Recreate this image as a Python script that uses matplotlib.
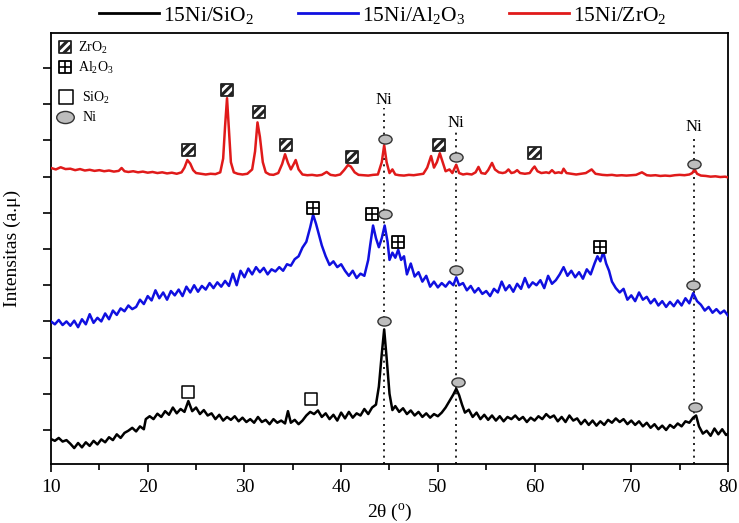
import matplotlib
matplotlib.use("Agg")
import matplotlib.pyplot as plt
from matplotlib.path import Path
from matplotlib.transforms import Affine2D
from matplotlib.lines import Line2D

plt.rcParams['font.family'] = ['Liberation Serif', 'DejaVu Serif']
plt.rcParams['mathtext.fontset'] = 'custom'
plt.rcParams['mathtext.rm'] = 'Liberation Serif'
plt.rcParams['mathtext.it'] = 'Liberation Serif:italic'
plt.rcParams['mathtext.default'] = 'regular'
plt.rcParams['hatch.linewidth'] = 2.2

# ---------------- data (intensity in arbitrary units) ----------------
sio2_x = [10.0, 10.4, 10.8, 11.2, 11.6, 12.0, 12.4, 12.8, 13.2, 13.6, 14.0, 14.4, 14.8, 15.2, 15.6,
          16.0, 16.4, 16.8, 17.2, 17.6, 18.0, 18.4, 18.8, 19.2, 19.6, 19.8, 20.2, 20.6, 21.0, 21.4,
          21.8, 22.2, 22.6, 23.0, 23.4, 23.8, 24.2, 24.6, 25.0, 25.4, 25.8, 26.2, 26.6, 27.0, 27.4,
          27.8, 28.2, 28.6, 29.0, 29.4, 29.8, 30.2, 30.6, 31.0, 31.4, 31.8, 32.2, 32.6, 33.0, 33.4,
          33.8, 34.2, 34.5, 34.8, 35.2, 35.6, 36.0, 36.4, 36.8, 37.2, 37.6, 38.0, 38.4, 38.8, 39.2,
          39.6, 40.0, 40.4, 40.8, 41.2, 41.6, 42.0, 42.4, 42.8, 43.2, 43.6, 43.9, 44.2, 44.45, 44.7,
          45.0, 45.3, 45.6, 46.0, 46.4, 46.8, 47.2, 47.6, 48.0, 48.4, 48.8, 49.2, 49.6, 50.0, 50.4,
          50.8, 51.2, 51.6, 51.9, 52.2, 52.5, 52.8, 53.2, 53.6, 54.0, 54.4, 54.8, 55.2, 55.6, 56.0,
          56.4, 56.8, 57.2, 57.6, 58.0, 58.4, 58.8, 59.2, 59.6, 60.0, 60.4, 60.8, 61.2, 61.6, 62.0,
          62.4, 62.8, 63.2, 63.6, 64.0, 64.4, 64.8, 65.2, 65.6, 66.0, 66.4, 66.8, 67.2, 67.6, 68.0,
          68.4, 68.8, 69.2, 69.6, 70.0, 70.4, 70.8, 71.2, 71.6, 72.0, 72.4, 72.8, 73.2, 73.6, 74.0,
          74.4, 74.8, 75.2, 75.6, 76.0, 76.4, 76.7, 77.0, 77.4, 77.8, 78.2, 78.6, 79.0, 79.4, 79.8, 80.0]
sio2_y = [-0.25, -0.30, -0.22, -0.32, -0.28, -0.38, -0.50, -0.36, -0.48, -0.34, -0.44, -0.30, -0.40, -0.26, -0.34,
          -0.20, -0.28, -0.12, -0.22, -0.08, -0.02, 0.06, -0.04, 0.10, 0.02, 0.30, 0.38, 0.30, 0.45, 0.36,
          0.52, 0.42, 0.62, 0.46, 0.58, 0.50, 0.80, 0.52, 0.62, 0.44, 0.55, 0.40, 0.46, 0.30, 0.42,
          0.26, 0.36, 0.28, 0.38, 0.24, 0.34, 0.22, 0.30, 0.20, 0.36, 0.22, 0.28, 0.16, 0.30, 0.20,
          0.26, 0.18, 0.52, 0.20, 0.28, 0.16, 0.26, 0.40, 0.50, 0.44, 0.54, 0.36, 0.46, 0.30, 0.42,
          0.26, 0.48, 0.32, 0.50, 0.34, 0.46, 0.40, 0.58, 0.44, 0.62, 0.70, 1.20, 2.10, 2.78, 2.00,
          1.00, 0.55, 0.66, 0.50, 0.60, 0.44, 0.54, 0.40, 0.50, 0.36, 0.46, 0.34, 0.44, 0.38, 0.48,
          0.62, 0.80, 0.98, 1.14, 0.96, 0.70, 0.48, 0.56, 0.36, 0.48, 0.30, 0.42, 0.28, 0.40, 0.26,
          0.38, 0.24, 0.36, 0.30, 0.40, 0.28, 0.36, 0.22, 0.34, 0.26, 0.38, 0.30, 0.44, 0.34, 0.40,
          0.24, 0.36, 0.22, 0.40, 0.26, 0.32, 0.16, 0.28, 0.14, 0.26, 0.12, 0.24, 0.14, 0.28, 0.20,
          0.32, 0.22, 0.30, 0.16, 0.26, 0.14, 0.24, 0.10, 0.20, 0.06, 0.16, 0.02, 0.12, 0.00, 0.14,
          0.06, 0.18, 0.10, 0.24, 0.20, 0.34, 0.40, 0.10, -0.10, -0.02, -0.16, 0.04, -0.12, 0.02, -0.14, -0.10]

al2o3_x = [10.0, 10.4, 10.8, 11.2, 11.6, 12.0, 12.4, 12.8, 13.2, 13.6, 14.0, 14.4, 14.8, 15.2, 15.6,
           16.0, 16.4, 16.8, 17.2, 17.6, 18.0, 18.4, 18.8, 19.2, 19.6, 20.0, 20.4, 20.8, 21.2, 21.6,
           22.0, 22.4, 22.8, 23.2, 23.6, 24.0, 24.4, 24.8, 25.2, 25.6, 26.0, 26.4, 26.8, 27.2, 27.6,
           28.0, 28.4, 28.8, 29.2, 29.6, 30.0, 30.4, 30.8, 31.2, 31.6, 32.0, 32.4, 32.8, 33.2, 33.6,
           34.0, 34.4, 34.8, 35.2, 35.6, 36.0, 36.4, 36.8, 37.1, 37.4, 37.7, 38.0, 38.4, 38.8, 39.2,
           39.6, 40.0, 40.4, 40.8, 41.2, 41.6, 42.0, 42.4, 42.8, 43.0, 43.3, 43.6, 43.9, 44.2, 44.5,
           44.8, 45.0, 45.3, 45.6, 45.9, 46.2, 46.5, 46.8, 47.2, 47.6, 48.0, 48.4, 48.8, 49.2, 49.6,
           50.0, 50.4, 50.8, 51.2, 51.6, 51.9, 52.2, 52.6, 53.0, 53.4, 53.8, 54.2, 54.6, 55.0, 55.4,
           55.8, 56.2, 56.6, 57.0, 57.4, 57.8, 58.2, 58.6, 59.0, 59.4, 59.8, 60.2, 60.6, 61.0, 61.4,
           61.8, 62.2, 62.6, 63.0, 63.4, 63.8, 64.2, 64.6, 65.0, 65.4, 65.8, 66.2, 66.5, 66.8, 67.1,
           67.4, 67.7, 68.0, 68.4, 68.8, 69.2, 69.6, 70.0, 70.4, 70.8, 71.2, 71.6, 72.0, 72.4, 72.8,
           73.2, 73.6, 74.0, 74.4, 74.8, 75.2, 75.6, 76.0, 76.4, 76.8, 77.2, 77.6, 78.0, 78.4, 78.8,
           79.2, 79.6, 80.0]
al2o3_y = [3.00, 2.92, 3.04, 2.90, 3.00, 2.88, 3.02, 2.84, 3.06, 2.92, 3.20, 2.96, 3.10, 3.00, 3.22,
           3.06, 3.30, 3.18, 3.36, 3.28, 3.44, 3.34, 3.40, 3.60, 3.48, 3.70, 3.58, 3.86, 3.64, 3.80,
           3.60, 3.84, 3.72, 3.88, 3.70, 3.96, 3.80, 4.00, 3.82, 3.98, 3.88, 4.06, 3.92, 4.08, 3.96,
           4.12, 3.98, 4.32, 4.00, 4.40, 4.22, 4.46, 4.30, 4.50, 4.36, 4.48, 4.30, 4.44, 4.38, 4.50,
           4.40, 4.58, 4.54, 4.72, 4.80, 5.04, 5.20, 5.60, 5.95, 5.70, 5.40, 5.10, 4.80, 4.56, 4.66,
           4.50, 4.58, 4.40, 4.26, 4.40, 4.20, 4.32, 4.26, 4.70, 5.10, 5.65, 5.30, 5.05, 5.30, 5.65,
           5.20, 4.70, 4.90, 4.76, 4.98, 4.70, 4.80, 4.30, 4.60, 4.24, 4.36, 4.10, 4.26, 3.96, 4.10,
           3.94, 4.06, 3.96, 4.10, 4.00, 4.22, 4.00, 4.06, 3.86, 3.98, 3.80, 3.92, 3.76, 3.84, 3.70,
           3.90, 3.80, 4.10, 3.86, 4.00, 3.82, 4.04, 3.90, 4.20, 3.94, 4.08, 4.00, 4.14, 3.92, 4.26,
           4.04, 4.14, 4.30, 4.50, 4.26, 4.40, 4.22, 4.36, 4.18, 4.44, 4.30, 4.60, 4.80, 4.66, 4.92,
           4.60, 4.40, 4.10, 3.92, 3.80, 3.90, 3.60, 3.72, 3.56, 3.80, 3.60, 3.68, 3.50, 3.62, 3.44,
           3.56, 3.40, 3.54, 3.42, 3.58, 3.44, 3.64, 3.50, 3.78, 3.56, 3.46, 3.30, 3.40, 3.24, 3.34,
           3.22, 3.30, 3.16]

zro2_x = [10.0, 10.5, 11.0, 11.5, 12.0, 12.5, 13.0, 13.5, 14.0, 14.5, 15.0, 15.5, 16.0, 16.5, 17.0,
          17.3, 17.6, 18.0, 18.5, 19.0, 19.5, 20.0, 20.5, 21.0, 21.5, 22.0, 22.5, 23.0, 23.5, 23.8,
          24.1, 24.4, 24.7, 25.0, 25.5, 26.0, 26.5, 27.0, 27.5, 27.8, 28.0, 28.2, 28.4, 28.6, 28.9,
          29.3, 29.8, 30.3, 30.8, 31.1, 31.35, 31.6, 31.9, 32.2, 32.6, 33.0, 33.5, 33.9, 34.2, 34.5,
          34.8, 35.1, 35.3, 35.6, 36.0, 36.5, 37.0, 37.5, 38.0, 38.5, 38.9, 39.4, 39.9, 40.3, 40.7,
          41.0, 41.4, 41.8, 42.3, 42.8, 43.3, 43.8, 44.2, 44.45, 44.7, 45.0, 45.3, 45.6, 46.0, 46.5,
          47.0, 47.5, 48.0, 48.5, 48.9, 49.3, 49.6, 49.9, 50.2, 50.5, 50.8, 51.2, 51.5, 51.9, 52.2,
          52.6, 53.0, 53.5, 53.9, 54.2, 54.5, 54.9, 55.2, 55.6, 55.9, 56.3, 56.7, 57.0, 57.3, 57.6,
          57.9, 58.2, 58.5, 59.0, 59.5, 59.8, 60.0, 60.3, 60.7, 61.2, 61.5, 61.8, 62.1, 62.5, 62.8,
          63.0, 63.3, 63.8, 64.3, 64.8, 65.3, 65.9, 66.3, 67.0, 67.5, 68.0, 68.5, 69.0, 69.5, 70.0,
          70.5, 71.1, 71.6, 72.0, 72.5, 73.0, 73.5, 74.0, 74.5, 75.0, 75.5, 76.0, 76.3, 76.55, 76.8,
          77.2, 77.7, 78.2, 78.7, 79.2, 79.7, 80.0]
zro2_y = [7.24, 7.20, 7.26, 7.21, 7.22, 7.18, 7.21, 7.17, 7.19, 7.16, 7.18, 7.15, 7.17, 7.14, 7.16,
          7.24, 7.15, 7.13, 7.15, 7.12, 7.14, 7.11, 7.13, 7.10, 7.12, 7.09, 7.11, 7.08, 7.12, 7.25,
          7.46, 7.36, 7.18, 7.10, 7.08, 7.06, 7.08, 7.07, 7.12, 7.50, 8.40, 9.17, 8.30, 7.40, 7.12,
          7.08, 7.06, 7.08, 7.20, 7.70, 8.50, 8.10, 7.40, 7.12, 7.06, 7.05, 7.10, 7.35, 7.62, 7.38,
          7.20, 7.35, 7.46, 7.20, 7.06, 7.04, 7.05, 7.03, 7.05, 7.13, 7.05, 7.03, 7.06, 7.18, 7.32,
          7.28, 7.12, 7.05, 7.04, 7.03, 7.05, 7.06, 7.40, 7.87, 7.40, 7.10, 7.20, 7.06, 7.04, 7.03,
          7.05, 7.04, 7.06, 7.08, 7.25, 7.57, 7.25, 7.40, 7.65, 7.40, 7.15, 7.20, 7.10, 7.33, 7.10,
          7.06, 7.08, 7.06, 7.12, 7.27, 7.10, 7.08, 7.18, 7.38, 7.20, 7.12, 7.10, 7.12, 7.20, 7.10,
          7.12, 7.18, 7.10, 7.08, 7.10, 7.22, 7.28, 7.15, 7.10, 7.12, 7.10, 7.18, 7.10, 7.12, 7.10,
          7.22, 7.10, 7.08, 7.06, 7.08, 7.10, 7.20, 7.08, 7.05, 7.04, 7.05, 7.03, 7.04, 7.03, 7.04,
          7.05, 7.12, 7.04, 7.03, 7.04, 7.02, 7.03, 7.02, 7.04, 7.05, 7.04, 7.06, 7.10, 7.20, 7.08,
          7.03, 7.02, 7.00, 7.01, 6.99, 7.00, 6.98]

# phase markers (2theta, intensity position)
zro2_mark_x = [24.2, 28.2, 31.5, 34.3, 41.1, 50.1, 60.0]
zro2_mark_y = [7.73, 9.39, 8.78, 7.87, 7.54, 7.87, 7.65]
al2o3_mark_x = [37.1, 43.2, 45.9, 66.8]
al2o3_mark_y = [6.13, 5.96, 5.19, 5.06]
sio2_mark_x = [24.2, 36.9]
sio2_mark_y = [1.05, 0.86]
ni_mark_x = [44.5, 51.9, 76.5, 44.5, 51.9, 76.4, 44.4, 52.1, 76.6]
ni_mark_y = [8.04, 7.54, 7.35, 5.96, 4.42, 4.00, 3.01, 1.33, 0.64]

ni_lines_x = [44.4, 51.85, 76.5]
ni_lines_top = [8.9, 8.28, 8.15]
ni_label_y = [9.12, 8.48, 8.37]

series_labels = ['15Ni/SiO$_2$', '15Ni/Al$_2$O$_3$', '15Ni/ZrO$_2$']
series_colors = ['#000000', '#1010e0', '#e01a1a']

# ---------------- figure ----------------
fig = plt.figure(figsize=(7.39, 5.23), dpi=100)
ax = fig.add_axes([51/739, 59/523, 677/739, 431/523])

ax.plot(sio2_x, sio2_y, color=series_colors[0], lw=1.8, zorder=3)
ax.plot(al2o3_x, al2o3_y, color=series_colors[1], lw=1.8, zorder=3)
ax.plot(zro2_x, zro2_y, color=series_colors[2], lw=1.8, zorder=3)

for xv, yt in zip(ni_lines_x, ni_lines_top):
    ax.plot([xv, xv], [-0.94, yt], color='black', lw=1.2, ls=(0, (1.2, 2.6)), zorder=2)
for xv, yl in zip(ni_lines_x, ni_label_y):
    ax.text(xv, yl, 'Ni', ha='center', va='center', fontsize=12)

ellipse = Path.unit_circle().transformed(Affine2D().scale(1.45, 1.0))

ax.scatter(zro2_mark_x, zro2_mark_y, marker='s', s=80, facecolor='white', edgecolor='#222222',
           hatch='////', linewidths=1.3, zorder=5)
ax.scatter(al2o3_mark_x, al2o3_mark_y, marker='s', s=72, facecolor='white', edgecolor='black',
           linewidths=1.3, zorder=5)
ax.scatter(al2o3_mark_x, al2o3_mark_y, marker='+', s=72, color='black', linewidths=1.2, zorder=6)
ax.scatter(sio2_mark_x, sio2_mark_y, marker='s', s=80, facecolor='white', edgecolor='black',
           linewidths=1.1, zorder=5)
ax.scatter(ni_mark_x, ni_mark_y, marker=ellipse, s=90, facecolor='#bdbdbd', edgecolor='#333333',
           linewidths=1.0, zorder=5)

# inner phase legend
tr = ax.transAxes
ax.scatter([0.021], [0.967], marker='s', s=70, facecolor='white', edgecolor='#222222', hatch='////',
           linewidths=1.3, transform=tr, zorder=6, clip_on=False)
ax.scatter([0.021], [0.921], marker='s', s=64, facecolor='white', edgecolor='black',
           linewidths=1.3, transform=tr, zorder=6, clip_on=False)
ax.scatter([0.021], [0.921], marker='+', s=64, color='black', linewidths=1.2, transform=tr,
           zorder=7, clip_on=False)
ax.scatter([0.022], [0.852], marker='s', s=90, facecolor='white', edgecolor='black',
           linewidths=1.1, transform=tr, zorder=6, clip_on=False)
ax.scatter([0.020], [0.805], marker=ellipse, s=160, facecolor='#bdbdbd', edgecolor='#333333',
           linewidths=1.0, transform=tr, zorder=6, clip_on=False)
ax.text(0.040, 0.965, 'ZrO$_2$', transform=tr, fontsize=10, va='center', ha='left')
ax.text(0.040, 0.919, 'Al$_2$O$_3$', transform=tr, fontsize=10, va='center', ha='left')
ax.text(0.046, 0.850, 'SiO$_2$', transform=tr, fontsize=10, va='center', ha='left')
ax.text(0.046, 0.803, 'Ni', transform=tr, fontsize=10, va='center', ha='left')

ax.set_xlim(10, 80)
ax.set_ylim(-0.94, 10.97)
ax.set_xticks([10, 20, 30, 40, 50, 60, 70, 80])
ax.set_xticks([15, 25, 35, 45, 55, 65, 75], minor=True)
ax.set_yticks(range(0, 11))
ax.set_yticklabels([])
ax.tick_params(axis='x', which='major', direction='out', length=6, width=1.2, labelsize=14, pad=5)
ax.tick_params(axis='x', which='minor', direction='out', length=4, width=1.2)
ax.tick_params(axis='y', which='major', direction='out', length=6, width=1.2)
for sp in ax.spines.values():
    sp.set_linewidth(1.3)

ax.set_xlabel('2θ ($^{o}$)', fontsize=14, labelpad=4)
ax.set_ylabel('Intensitas (a.μ)', fontsize=14, labelpad=12)

handles = [Line2D([0], [0], color=c, lw=2.0) for c in series_colors]
fig.legend(handles, series_labels, loc='center', bbox_to_anchor=(0.518, 1 - 15/523), ncol=3,
           frameon=False, fontsize=15.5, handlelength=2.8, handletextpad=0.2, columnspacing=2.0,
           borderaxespad=0, borderpad=0)

fig.savefig('out.png', dpi=100)
